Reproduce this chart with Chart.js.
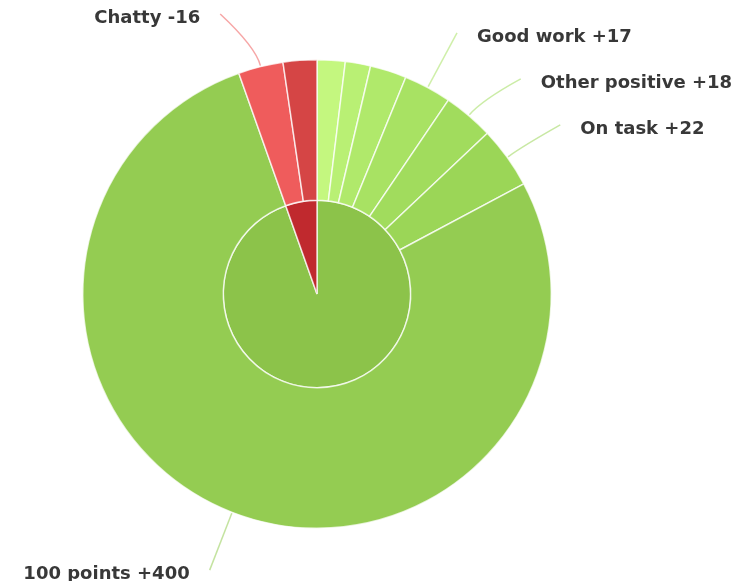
<!DOCTYPE html>
<html>
<head>
<meta charset="utf-8">
<script src="https://cdn.jsdelivr.net/npm/chart.js@4.4.1/dist/chart.umd.min.js"></script>
<style>
  html, body { margin: 0; padding: 0; background: #ffffff; }
  #wrap { width: 734px; height: 581px; }
  canvas { display: block; }
</style>
</head>
<body>
<div id="wrap"><canvas id="c" width="734" height="581"></canvas></div>
<script>
// ---- data ----
const categories = [null, null, null, 'Good work', 'Other positive', 'On task', '100 points', 'Chatty', null];
const outerValues = [10, 9, 13, 17, 18, 22, 400, -16, -12];
const outerColors = ['#c4f77f', '#b9f074', '#b0e96b', '#a8e263', '#a1dc5d', '#9bd657', '#94cc52', '#ef5c5c', '#d54545'];
const innerCategories = ['Positive', 'Negative'];
const innerColors = ['#8cc34a', '#c0292e'];

const positiveSum = outerValues.filter(v => v > 0).reduce((a, b) => a + b, 0);
const negativeSum = outerValues.filter(v => v < 0).reduce((a, b) => a - b, 0);
const innerValues = [positiveSum, negativeSum];

function fmt(v) { return (v > 0 ? '+' : '') + v; }

const labelPlugin = {
  id: 'sliceLabels',
  afterDatasetsDraw(chart) {
    const ctx = chart.ctx;
    const meta = chart.getDatasetMeta(0);
    const items = [];
    meta.data.forEach((arc, i) => {
      if (!categories[i]) return;
      const p = arc.getProps(['x', 'y', 'startAngle', 'endAngle', 'outerRadius'], true);
      const mid = (p.startAngle + p.endAngle) / 2;
      const R = p.outerRadius + 62;
      items.push({
        i, p, mid, R,
        right: Math.cos(mid) >= 0,
        y: p.y + Math.sin(mid) * R
      });
    });
    // simple collision avoidance per side (top to bottom)
    const gap = 46;
    [true, false].forEach(side => {
      const list = items.filter(it => it.right === side).sort((a, b) => a.y - b.y);
      let last = -Infinity;
      list.forEach(it => {
        it.y = Math.max(it.y, 14, last + gap);
        last = it.y;
      });
    });
    ctx.save();
    ctx.font = 'bold 18px "DejaVu Sans", sans-serif';
    ctx.textBaseline = 'middle';
    items.forEach(it => {
      const { p, mid, R, i } = it;
      const dy = it.y - p.y;
      const dx = Math.sqrt(Math.max(R * R - dy * dy, 0));
      const ex = p.x + (it.right ? dx : -dx);
      const ey = it.y;
      const sx = p.x + Math.cos(mid) * (p.outerRadius + 1);
      const sy = p.y + Math.sin(mid) * (p.outerRadius + 1);
      const qx = p.x + Math.cos(mid) * (p.outerRadius + 20);
      const qy = p.y + Math.sin(mid) * (p.outerRadius + 20);
      ctx.strokeStyle = outerColors[i];
      ctx.globalAlpha = 0.55;
      ctx.lineWidth = 1.5;
      ctx.beginPath();
      ctx.moveTo(sx, sy);
      ctx.quadraticCurveTo(qx, qy, ex, ey);
      ctx.stroke();
      ctx.globalAlpha = 1;
      ctx.fillStyle = '#383838';
      const text = categories[i] + ' ' + fmt(outerValues[i]);
      if (it.right) {
        ctx.textAlign = 'left';
        ctx.fillText(text, ex + 20, ey + 4);
      } else {
        ctx.textAlign = 'right';
        ctx.fillText(text, ex - 20, ey + 4);
      }
    });
    ctx.restore();
  }
};

new Chart(document.getElementById('c'), {
  type: 'doughnut',
  data: {
    labels: categories.map((c, i) => c || ('Item ' + (i + 1))),
    datasets: [
      {
        data: outerValues.map(v => Math.abs(v)),
        backgroundColor: outerColors,
        borderColor: 'rgba(255,255,255,0.75)',
        borderWidth: 1.5,
        weight: 141
      },
      {
        data: innerValues,
        backgroundColor: innerColors,
        borderColor: 'rgba(255,255,255,0.75)',
        borderWidth: 1.5,
        weight: 94
      }
    ]
  },
  options: {
    responsive: false,
    animation: false,
    cutout: 0,
    hoverOffset: 0,
    layout: { padding: { left: 82, top: 59, right: 182, bottom: 52 } },
    plugins: {
      legend: { display: false },
      tooltip: { enabled: false }
    }
  },
  plugins: [labelPlugin]
});
</script>
</body>
</html>
